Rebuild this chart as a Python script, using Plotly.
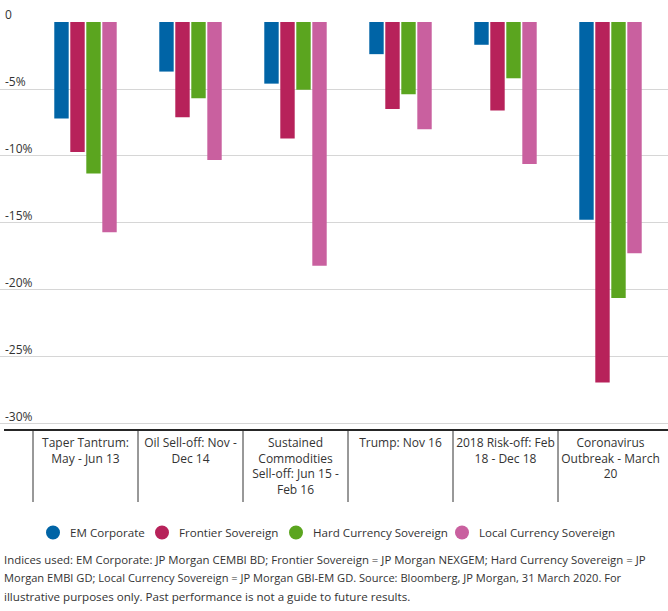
import plotly.graph_objects as go

categories = [
    "Taper Tantrum:<br>May - Jun 13",
    "Oil Sell-off: Nov -<br>Dec 14",
    "Sustained<br>Commodities<br>Sell-off: Jun 15 -<br>Feb 16",
    "Trump: Nov 16",
    "2018 Risk-off: Feb<br>18 - Dec 18",
    "Coronavirus<br>Outbreak - March<br>20",
]
em_corporate = [-7.2, -3.7, -4.6, -2.4, -1.7, -14.75]
frontier_sovereign = [-9.7, -7.1, -8.7, -6.5, -6.6, -26.9]
hard_currency_sovereign = [-11.3, -5.7, -5.05, -5.4, -4.2, -20.6]
local_currency_sovereign = [-15.7, -10.3, -18.2, -8.0, -10.6, -17.25]
series_names = ["EM Corporate", "Frontier Sovereign", "Hard Currency Sovereign", "Local Currency Sovereign"]
series_values = [em_corporate, frontier_sovereign, hard_currency_sovereign, local_currency_sovereign]
series_colors = ["#0064a6", "#b7225a", "#5ba51f", "#c9609f"]
y_ticks = [0, -5, -10, -15, -20, -25, -30]
y_tick_labels = ["0", "-5%", "-10%", "-15%", "-20%", "-25%", "-30%"]
footnote_lines = [
    "Indices used: EM Corporate: JP Morgan CEMBI BD; Frontier Sovereign = JP Morgan NEXGEM; Hard Currency Sovereign = JP",
    "Morgan EMBI GD; Local Currency Sovereign = JP Morgan GBI-EM GD. Source: Bloomberg, JP Morgan, 31 March 2020. For",
    "illustrative purposes only. Past performance is not a guide to future results.",
]

W, H = 668, 611
PLOT_TOP, PLOT_BOTTOM = 22, 430
PLOT_H = PLOT_BOTTOM - PLOT_TOP
FONT = "Open Sans"
TXT = "#333333"

# layout of the custom legend (pixel centres of the circle markers)
LEGEND_X = [53, 162, 296, 462]
LEGEND_Y = 532.5
FOOT_Y = [559, 577.5, 596.5]
FOOT_SIZE = [11.4, 11.1, 11.6]


def py(p):
    return (PLOT_BOTTOM - p) / PLOT_H


def px(p):
    return p / W


xpos = list(range(len(categories)))
fig = go.Figure()
for name, vals, col in zip(series_names, series_values, series_colors):
    fig.add_trace(go.Bar(x=xpos, y=vals, name=name, marker=dict(color=col, line=dict(width=0)),
                         showlegend=False, hoverinfo="y"))

# category width 105 px, first category starts at x=33 px
unit = 105.0
x_left = -0.5 - 33 / unit
x_right = x_left + W / unit

shapes = []
for i in xpos:
    shapes.append(dict(type="line", xref="x", yref="paper", x0=i - 0.5, x1=i - 0.5,
                       y0=0, y1=py(502), line=dict(color="#333333", width=1)))
shapes.append(dict(type="line", xref="paper", yref="paper", x0=px(4), x1=1, y0=0, y1=0,
                   line=dict(color="#262626", width=2)))

annotations = []
for v, t in zip(y_ticks, y_tick_labels):
    annotations.append(dict(x=px(3), xref="paper", xanchor="left", y=v, yref="y", yanchor="bottom",
                            yshift=-3, text=t, showarrow=False,
                            font=dict(family=FONT, size=12, color=TXT)))
for k, line in enumerate(footnote_lines):
    annotations.append(dict(x=px(2), xref="paper", xanchor="left", y=py(FOOT_Y[k]),
                            yref="paper", yanchor="middle", text=line, showarrow=False,
                            font=dict(family=FONT, size=FOOT_SIZE[k], color=TXT)))

# legend: circles + labels
for name, col, lx in zip(series_names, series_colors, LEGEND_X):
    shapes.append(dict(type="circle", xref="paper", yref="paper", xsizemode="pixel", ysizemode="pixel",
                       xanchor=px(lx), yanchor=py(LEGEND_Y), x0=-7, x1=7, y0=-7, y1=7,
                       fillcolor=col, line=dict(width=0)))
    annotations.append(dict(x=px(lx + 15), xref="paper", xanchor="left", y=py(LEGEND_Y), yref="paper",
                            yanchor="middle", text=name, showarrow=False,
                            font=dict(family=FONT, size=11.6, color=TXT)))

fig.update_layout(
    width=W, height=H,
    margin=dict(l=0, r=0, t=PLOT_TOP, b=H - PLOT_BOTTOM, pad=0),
    paper_bgcolor="white", plot_bgcolor="white",
    barmode="group", bargap=0.39, bargroupgap=0.1,
    font=dict(family=FONT, size=12, color=TXT),
    showlegend=False,
    xaxis=dict(range=[x_left, x_right], tickmode="array", tickvals=xpos, ticktext=categories,
               showgrid=False, zeroline=False, showline=False, ticks="", ticklabelstandoff=4,
               tickfont=dict(family=FONT, size=12, color=TXT), fixedrange=True),
    yaxis=dict(range=[-30.45, 0], tickvals=y_ticks, showticklabels=False, showgrid=True,
               gridcolor="#d6d6d6", gridwidth=1, zeroline=False, showline=False, fixedrange=True),
    shapes=shapes, annotations=annotations,
)

fig.write_html("out.html", config={"displayModeBar": False},
               post_script="document.body.style.margin='0';document.body.style.padding='0';")
